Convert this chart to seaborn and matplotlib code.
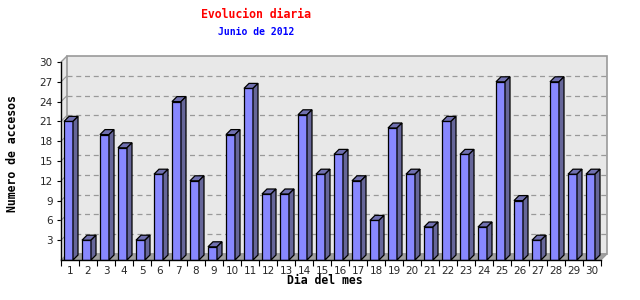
import matplotlib
matplotlib.use("Agg")
import matplotlib.pyplot as plt
import seaborn as sns
import pandas as pd
from matplotlib.patches import Polygon

days = [str(d) for d in range(1, 31)]
accesos = [21, 3, 19, 17, 3, 13, 24, 12, 2, 19, 26, 10, 10, 22, 13, 16, 12, 6, 20, 13,
           5, 21, 16, 5, 27, 9, 3, 27, 13, 13]
y_ticks = [3, 6, 9, 12, 15, 18, 21, 24, 27, 30]
title = "Evolucion diaria"
subtitle = "Junio de 2012"
xlabel = "Dia del mes"
ylabel = "Numero de accesos"

sns.set_theme(style="white")
plt.rcParams['font.family'] = ['DejaVu Sans']

W, H = 640, 300
fig = plt.figure(figsize=(W / 100, H / 100), dpi=100)
fig.patch.set_facecolor("white")
left_px, right_px, bottom_px, top_px = 61, 601, 260, 62
ax = fig.add_axes([left_px / W, 1 - bottom_px / H, (right_px - left_px) / W, (bottom_px - top_px) / H])
ax.set_facecolor("none")

df = pd.DataFrame({"dia": days, "accesos": accesos})
sns.barplot(data=df, x="dia", y="accesos", color="#8888FF", width=0.5,
            saturation=1, edgecolor="black", linewidth=0.9, ax=ax, zorder=5)

ymax = 30
ax.set_xlim(-0.5, len(days) - 0.5)
ax.set_ylim(0, ymax)

px_x = len(days) / (right_px - left_px)       # data units per px in x
px_y = ymax / (bottom_px - top_px)            # data units per px in y

# back wall & floor
dxw, dyw = 6 * px_x, 6 * px_y
x0, x1 = -0.5, len(days) - 0.5
wall_col = "#E8E8E8"
ax.add_patch(Polygon([(x0, 0), (x0 + dxw, dyw), (x0 + dxw, ymax + dyw), (x0, ymax)],
                     closed=True, facecolor=wall_col, edgecolor="none", clip_on=False, zorder=0))
ax.add_patch(Polygon([(x0 + dxw, dyw), (x1 + dxw, dyw), (x1 + dxw, ymax + dyw), (x0 + dxw, ymax + dyw)],
                     closed=True, facecolor=wall_col, edgecolor="#999999", linewidth=1.2,
                     clip_on=False, zorder=0))
ax.add_patch(Polygon([(x0, 0), (x0 + dxw, dyw), (x1 + dxw, dyw), (x1, 0)],
                     closed=True, facecolor="#A0A0A0", edgecolor="#999999", linewidth=0.8,
                     clip_on=False, zorder=1))
ax.plot([x0, x0 + dxw], [ymax, ymax + dyw], color="#999999", lw=1.0, clip_on=False, zorder=1)

# dashed grid on back wall
for yv in y_ticks[:-1]:
    ax.plot([x0 + dxw, x1 + dxw], [yv + dyw, yv + dyw], color="#999999", lw=0.9,
            linestyle=(0, (4, 3)), clip_on=False, zorder=1)
    ax.plot([x0, x0 + dxw], [yv, yv + dyw], color="#999999", lw=0.8, clip_on=False, zorder=1)

# 3D faces for bars
dxb, dyb = 5 * px_x, 5 * px_y
shift = 1.5 * px_x
for p in ax.patches[:]:
    if not hasattr(p, "get_width") or isinstance(p, Polygon):
        continue
    p.set_x(p.get_x() - shift)
    x, w, h = p.get_x(), p.get_width(), p.get_height()
    top = Polygon([(x, h), (x + dxb, h + dyb), (x + w + dxb, h + dyb), (x + w, h)], closed=True,
                  facecolor="#7070B0", edgecolor="black", linewidth=0.9, zorder=6, clip_on=False)
    side = Polygon([(x + w, 0), (x + w + dxb, dyb), (x + w + dxb, h + dyb), (x + w, h)], closed=True,
                   facecolor="#666699", edgecolor="black", linewidth=0.9, zorder=6, clip_on=False)
    ax.add_patch(top)
    ax.add_patch(side)

# axes styling
for s in ["top", "right"]:
    ax.spines[s].set_visible(False)
for s in ["left", "bottom"]:
    ax.spines[s].set_color("black")
    ax.spines[s].set_linewidth(1.0)
    ax.spines[s].set_zorder(7)

ax.set_yticks(y_ticks)
ax.set_yticklabels([str(v) for v in y_ticks], fontsize=7.5)
ax.tick_params(axis="y", length=3, width=0.8, color="black", pad=3, direction="out", left=True)
ax.set_xticks(range(len(days)))
ax.set_xticklabels(days, fontsize=7.5)
ax.set_xticks([i + 0.5 for i in range(-1, len(days))], minor=True)
ax.tick_params(axis="x", which="major", length=0, pad=4)
ax.tick_params(axis="x", which="minor", length=4, width=0.8, color="black", direction="out", bottom=True)

ax.set_xlabel("")
ax.set_ylabel("")
fig.text(325 / W, 1 - 281 / H, xlabel, ha="center", va="center", fontsize=8.3,
         fontweight="bold", family="DejaVu Sans Mono", color="black")
fig.text(13 / W, 1 - 154 / H, ylabel, ha="center", va="center", fontsize=8.3, rotation=90,
         fontweight="bold", family="DejaVu Sans Mono", color="black")
fig.text(256 / W, 1 - 14 / H, title, ha="center", va="center", fontsize=8.3,
         fontweight="bold", family="DejaVu Sans Mono", color="#FF0000")
fig.text(256 / W, 1 - 32 / H, subtitle, ha="center", va="center", fontsize=7,
         fontweight="bold", family="DejaVu Sans Mono", color="#0000FF")

fig.savefig("out.png", dpi=100, facecolor="white")
